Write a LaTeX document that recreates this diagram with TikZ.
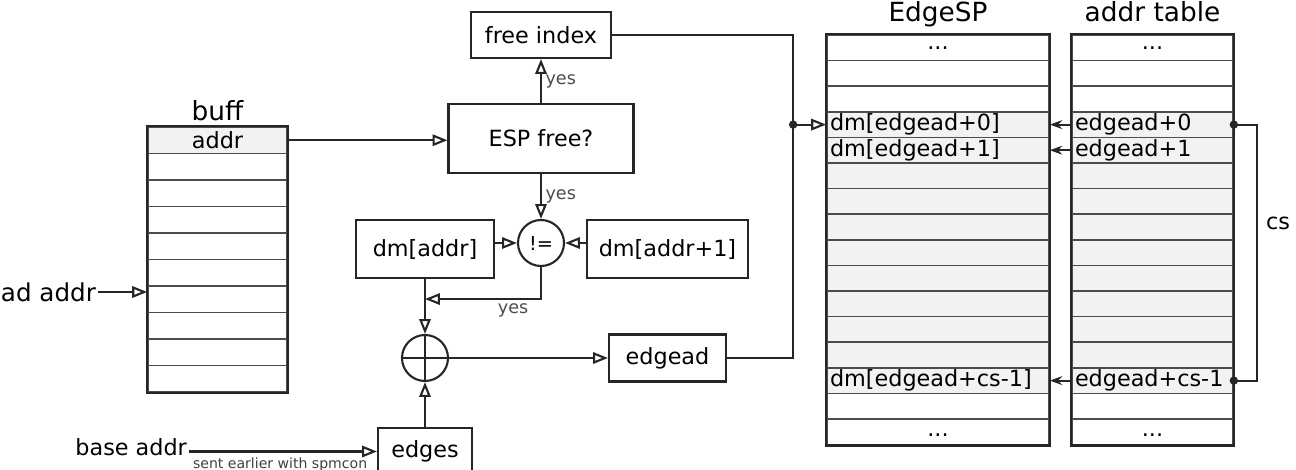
\documentclass[tikz,border=0pt]{standalone}
\usepackage{fontspec}
\setmainfont{DejaVu Sans}
\usepackage{xcolor}
\usepackage{tikz}
\usetikzlibrary{arrows.meta,positioning,calc}
\definecolor{rowgray}{gray}{0.95}
\definecolor{linegray}{gray}{0.15}
\definecolor{cellgray}{gray}{0.3}

\begin{document}
\begin{tikzpicture}[
    x=0.02cm, y=-0.02cm,
    font=\fontsize{12.7}{15}\selectfont,
    >={Triangle[open,length=8.5pt,width=6.5pt]},
    box/.style={rectangle, draw=linegray, line width=1.2pt, inner sep=0pt},
    opnode/.style={circle, draw=linegray, line width=1.2pt, minimum size=0.92cm, inner sep=0pt},
    cell/.style={rectangle, draw=cellgray, line width=1pt, inner sep=0pt},
    frame/.style={draw=linegray, line width=1.2pt},
    tabtitle/.style={font=\fontsize{15}{18}\selectfont, inner sep=3pt, text depth=4pt},
    yeslbl/.style={font=\fontsize{10}{12}\selectfont, text=black!70, inner sep=2pt},
    note/.style={font=\fontsize{8}{9}\selectfont, text=black!75, inner sep=1pt},
    arr/.style={->, line width=1.2pt, draw=linegray},
    farr/.style={-{Stealth[length=7pt,width=5pt]}, line width=1.2pt, draw=linegray},
    wire/.style={line width=1.2pt, draw=linegray}
]
\useasboundingbox (0,0) rectangle (1296,470);

% buff (left)
\foreach \i in {1,...,10}{
  \pgfmathsetmacro{\yc}{127+26.5*(\i-0.5)}
  \ifnum\i=1 \def\cf{rowgray}\else\def\cf{white}\fi
  \node[cell, fill=\cf, minimum width=2.78cm, minimum height=0.53cm] (buf\i) at (217.5,\yc) {};
}
\draw[frame] (buf1.north west) rectangle (buf10.south east);
\node (addrtxt) at (buf1) {addr};
\node[tabtitle, above=-4pt of buf1] (bufftitle) {buff};

% EdgeSP and addr table (right)
\foreach \i in {1,...,16}{
  \pgfmathsetmacro{\yc}{35+25.6*(\i-0.5)}
  \ifnum\i<4 \def\cf{white}\else\ifnum\i>14 \def\cf{white}\else\def\cf{rowgray}\fi\fi
  \node[cell, fill=\cf, minimum width=4.44cm, minimum height=0.512cm] (esp\i) at (938,\yc) {};
  \node[cell, fill=\cf, minimum width=3.22cm, minimum height=0.512cm] (adr\i) at (1152.5,\yc) {};
}
\draw[frame] (esp1.north west) rectangle (esp16.south east);
\draw[frame] (adr1.north west) rectangle (adr16.south east);
\node[tabtitle, above=0pt of esp1] (esptitle) {EdgeSP};
\node[tabtitle, above=0pt of adr1] (adrtitle) {addr table};
\node (espd1) at (esp1) {...};
\node[yshift=-2pt] (espd16) at (esp16) {...};
\node (adrd1) at (adr1) {...};
\node[yshift=-2pt] (adrd16) at (adr16) {...};
\node[anchor=west, inner sep=2pt] (espt4) at (esp4.west) {dm[edgead+0]};
\node[anchor=west, inner sep=2pt] (espt5) at (esp5.west) {dm[edgead+1]};
\node[anchor=west, inner sep=2pt] (espt14) at (esp14.west) {dm[edgead+cs-1]};
\node[anchor=west, inner sep=2pt] (adrt4) at (adr4.west) {edgead+0};
\node[anchor=west, inner sep=2pt] (adrt5) at (adr5.west) {edgead+1};
\node[anchor=west, inner sep=2pt] (adrt14) at (adr14.west) {edgead+cs-1};

% control path (center)
\node[box, minimum width=2.8cm, minimum height=0.92cm] (free) at (541,35) {free index};
\node[box, minimum width=3.7cm, minimum height=1.38cm] (espfree) at (541,138.5) {ESP free?};
\node[opnode, font=\fontsize{11}{13}\selectfont] (neq) at (541,243) {!=};
\node[box, minimum width=2.76cm, minimum height=1.16cm] (dmaddr) at (425,249) {dm[addr]};
\node[box, minimum width=3.22cm, minimum height=1.16cm] (dmaddrn) at (667.5,249) {dm[addr+1]};
\node[opnode] (plus) at (425,358) {};
\draw[wire] (plus.north) -- (plus.south) (plus.west) -- (plus.east);
\node[box, minimum width=2.34cm, minimum height=0.94cm] (edgead) at (667.5,358) {edgead};
\node[box, minimum width=1.88cm, minimum height=0.94cm] (edges) at (425,451.5) {edges};

% inputs
\node[anchor=east, inner sep=1pt, font=\fontsize{14}{16}\selectfont] (adaddr) at (98,292) {ad addr};
\node[anchor=base east, inner sep=1pt] (baseaddr) at (189,455) {base addr};
\node[note, anchor=north west] (sent) at (191,456) {sent earlier with spmcon};

% edges
\draw[arr] (adaddr.east) -- (adaddr.east -| buf1.west);
\draw[arr] (buf1.east) -- (buf1.east -| espfree.west);
\draw[arr] (espfree.north) -- node[yeslbl, right] {yes} (free.south);
\draw[arr] (espfree.south) -- node[yeslbl, right] {yes} (neq.north);
\draw[arr] (dmaddr.east |- neq.west) -- (neq.west);
\draw[arr] (dmaddrn.west |- neq.east) -- (neq.east);
\path (dmaddr.south) ++(0,20) coordinate (merge);
\draw[arr] (neq.south) |- node[yeslbl, pos=0.62, below] {yes} (merge);
\draw[arr] (dmaddr.south) -- (plus.north);
\draw[arr] (edges.north) -- (plus.south);
\draw[arr] (plus.east) -- (edgead.west);
\draw[arr] (baseaddr.base east |- edges.west) -- (edges.west);

% into EdgeSP
\path (esp4.west) ++(-33,0) coordinate (jn);
\draw[wire] (free.east) -| (jn);
\draw[wire] (edgead.east) -| (jn);
\draw[arr] (jn) -- (esp4.west);
\fill[linegray] (jn) circle (2.4pt);
\foreach \r in {4,5,14} \draw[farr] (adr\r.west) -- (esp\r.east);
\draw[wire] (adr4.east) -- ++(23,0) |- (adr14.east);
\fill[linegray] (adr4.east) circle (2.4pt) (adr14.east) circle (2.4pt);
\node (cs) at (1278,223) {cs};
\end{tikzpicture}
\end{document}
